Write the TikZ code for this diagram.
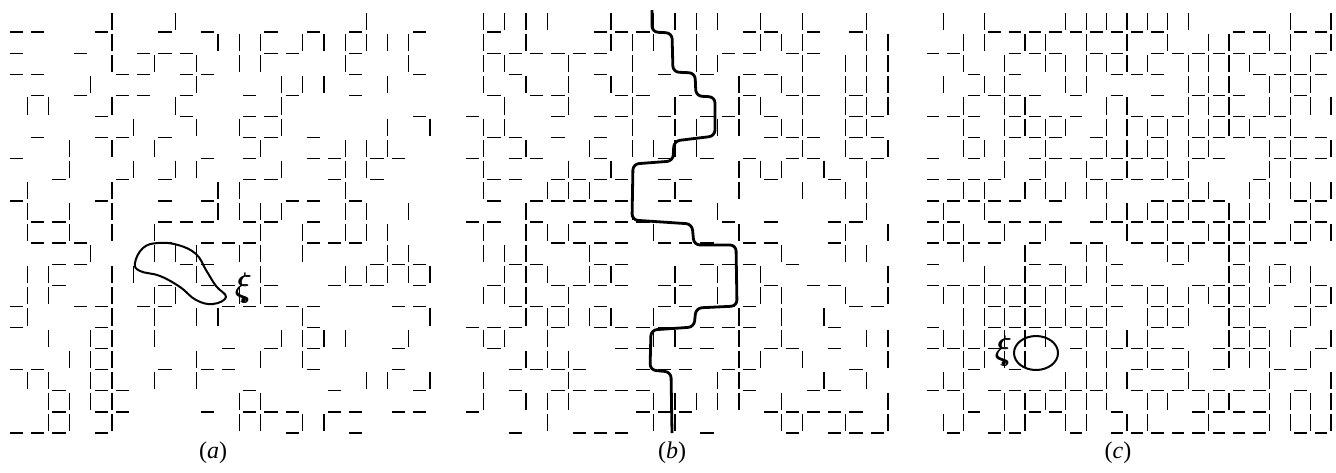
\documentclass[tikz,border=0pt]{standalone}
\usepackage{fontspec}
\setmainfont{Liberation Serif}
\tikzset{
  bond/.style={line width=1.3pt, line cap=butt, black},
  thickpath/.style={line width=2.8pt, line join=round, rounded corners=6pt},
  loop/.style={line width=2pt},
  panellabel/.style={scale=2.4, inner sep=0pt},
  xilabel/.style={scale=3.4, inner sep=0pt}
}
% #1 x0, #2 spacing, #3 probability, #4 seed
\newcommand\perclattice[4]{%
  \pgfmathsetseed{#4}%
  \foreach \i in {1,...,20}{%
    \foreach \j in {0,...,19}{%
      \pgfmathsetmacro\rv{rnd}%
      \ifdim\rv pt<#3pt
        \draw[bond] ({#1+#2*\i},{11+21.1*\j+2}) -- ({#1+#2*\i},{11+21.1*(\j+1)-2});
      \fi
      \pgfmathsetmacro\rh{rnd}%
      \ifdim\rh pt<#3pt
        \draw[bond] ({#1+#2*(\i-1)+4},{11+21.1*(\j+1)}) -- ({#1+#2*\i-4},{11+21.1*(\j+1)});
      \fi
    }%
  }%
}
\begin{document}
\begin{tikzpicture}[x=1pt,y=-1pt]
\useasboundingbox[fill=white] (0,0) rectangle (1336,472);
% panel (a)
\perclattice{6}{21.2}{0.40}{4711}
\draw[loop] plot[smooth cycle, tension=0.7] coordinates {(135,263) (143,248) (158,243) (178,245) (196,254) (206,270) (216,286) (226,297) (213,304) (196,300) (180,287) (160,276) (140,271)};
\node[xilabel] (xia) at (243,288) {$\xi$};
\node[xilabel] (xiab) at (243.8,288) {$\xi$};
\fill (243.5,300) circle[radius=2.3pt];
\node[panellabel] (la) at (213,453) {(\textit{a})};
% panel (b)
\perclattice{462}{21.3}{0.50}{2023}
\draw[thickpath] (652,10) -- (652,32) -- (672,33) -- (673,72) -- (695,73) -- (696,96) -- (715,97) -- (715,136) -- (674,141) -- (673,161) -- (633,164) -- (632,220) -- (692,224) -- (694,245) -- (736,245) -- (737,306) -- (696,308) -- (694,327) -- (651,330) -- (650,370) -- (671,372) -- (672,433);
\node[panellabel] (lb) at (672,453) {(\textit{b})};
% panel (c)
\perclattice{923}{20.4}{0.60}{9001}
\draw[loop] (1036,353) ellipse [x radius=22pt, y radius=17pt];
\node[xilabel] (xic) at (1003,351) {$\xi$};
\node[xilabel] (xicb) at (1003.8,351) {$\xi$};
\fill (1003.5,363) circle[radius=2pt];
\node[panellabel] (lc) at (1118,453) {(\textit{c})};
\end{tikzpicture}
\end{document}
